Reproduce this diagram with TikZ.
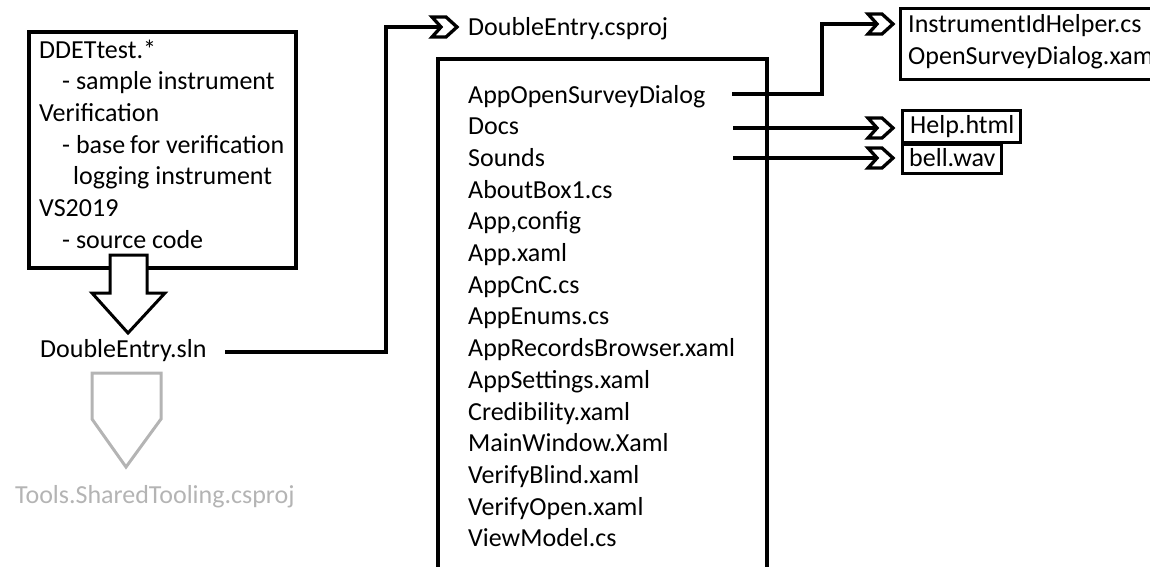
\documentclass[tikz,border=0pt]{standalone}
\usepackage{fontspec}
\setmainfont{Carlito}
\definecolor{lightgr}{RGB}{180,180,180}
\begin{document}
\begin{tikzpicture}[x=1pt,y=-1pt,
  txt/.style={inner sep=0pt,anchor=base west,font=\fontsize{26pt}{31.7pt}\selectfont},
  boxframe/.style={draw=black,line width=3.5pt,fill=white},
  smallbox/.style={draw=black,line width=3pt},
  conn/.style={draw=black,line width=3.5pt,line join=miter},
  chev/.pic={\filldraw[fill=white,draw=black,line width=3.3pt,line join=miter]
     (0,-10) -- (14,-10) -- (25,0) -- (14,10) -- (0,10) -- (9,0) -- cycle;}
]
\clip (0,0) rectangle (1150,566);
\useasboundingbox (0,0) rectangle (1150,566);

% ---------- left source box ----------
\draw[boxframe] (29,32) rectangle (296,268);
\node[txt] (l1) at (39,58) {DDETtest.*};
\node[txt] (l2) at (62,89.7) {- sample instrument};
\node[txt] (l3) at (39,121.4) {Verification};
\node[txt] (l4) at (62,153.1) {- base\hspace{-1pt} for verification};
\node[txt] (l5) at (73,184.8) {logging instrument};
\node[txt] (l6) at (39,216.5) {VS2019};
\node[txt] (l7) at (62,248.2) {- source code};

% block arrow down
\filldraw[fill=white,draw=black,line width=3pt,line join=miter]
  (110,255) -- (147,255) -- (147,293) -- (165,293) -- (128,333) -- (92,293) -- (110,293) -- cycle;

\node[txt] (sln) at (40,357) {DoubleEntry.sln};

% gray pentagon
\draw[draw=lightgr,line width=3pt,line join=miter]
  (92,373) -- (161,373) -- (161,419) -- (126,467) -- (92,419) -- cycle;
\node[txt,text=lightgr] (tools) at (15,503) {Tools.SharedTooling.csproj};

% ---------- csproj ----------
\node[txt] (csproj) at (468,35) {DoubleEntry.csproj};
\coordinate (slnout) at (225,352);
\coordinate (csin) at (441,27);
\draw[conn] (slnout) -- (386,352) -- (386,27) -- (csin);
\pic at (432,27) {chev};

% big box
\draw[boxframe] (438,59) rectangle (767,620);
\foreach \t [count=\i from 0] in {AppOpenSurveyDialog,Docs,Sounds,AboutBox1.cs,{App,config},App.xaml,AppCnC.cs,AppEnums.cs,AppRecordsBrowser.xaml,AppSettings.xaml,Credibility.xaml,MainWindow.Xaml,VerifyBlind.xaml,VerifyOpen.xaml,ViewModel.cs}
  \node[txt] (it\i) at (468,103+\i*31.7) {\t};

% ---------- right targets ----------
\draw[smallbox] (900,8) rectangle (1180,79);
\node[txt] (inst1) at (908,32) {InstrumentIdHelper.cs};
\node[txt] (inst2) at (908,64) {OpenSurveyDialog.xaml};

\draw[smallbox] (902,110) rectangle (1020,142);
\node[txt] (help) at (910,133) {Help.html};

\draw[smallbox] (902,144) rectangle (1001,173);
\node[txt] (bell) at (909,166) {bell.wav};

\coordinate (o0) at (732,94);
\coordinate (o1) at (733,128);
\coordinate (o2) at (733,158);
\coordinate (i0) at (877,24);
\coordinate (i1) at (877,128);
\coordinate (i2) at (877,158);
\draw[conn] (o0) -- (822,94) -- (822,24) -- (i0);
\draw[conn] (o1) -- (i1);
\draw[conn] (o2) -- (i2);
\pic at (868,24) {chev};
\pic at (868,128) {chev};
\pic at (868,158) {chev};
\end{tikzpicture}
\end{document}
